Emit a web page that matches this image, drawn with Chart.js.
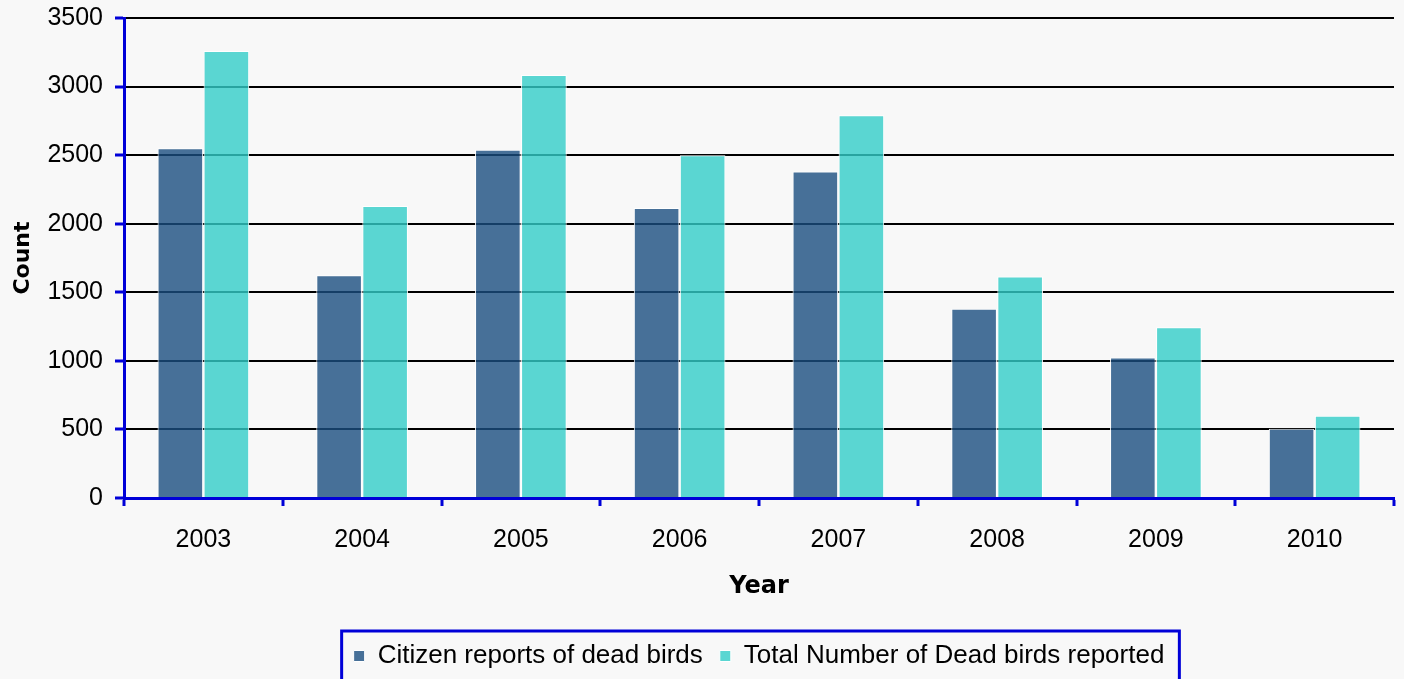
<!DOCTYPE html>
<html>
<head>
<meta charset="utf-8">
<script src="https://cdn.jsdelivr.net/npm/chart.js@4/dist/chart.umd.min.js"></script>
<style>
  html, body { margin: 0; padding: 0; background: #f8f8f8; }
  canvas { display: block; }
</style>
</head>
<body>
<canvas id="chart" width="1404" height="679"></canvas>
<script>
// Dead bird reports per year
const years = ['2003', '2004', '2005', '2006', '2007', '2008', '2009', '2010'];
const citizenReports = [2550, 1625, 2540, 2115, 2380, 1380, 1025, 505];
const totalReported = [3260, 2130, 3085, 2500, 2790, 1615, 1245, 600];
const seriesNames = ['Citizen reports of dead birds', 'Total Number of Dead birds reported'];

const AXIS_BLUE = '#0000d8';
const TICK_FONT = { family: '"Liberation Sans", Arial, sans-serif', size: 25 };
const LEGEND_FONT = { family: '"Liberation Sans", Arial, sans-serif', size: 26 };
const X_TITLE_FONT = { family: '"DejaVu Sans", Verdana, sans-serif', size: 24, weight: 'bold' };
const Y_TITLE_FONT = { family: '"DejaVu Sans", Verdana, sans-serif', size: 22, weight: 'bold' };

// Frame drawn around the legend entries
const legendFrame = {
  id: 'legendFrame',
  afterDraw(chart) {
    const lg = chart.legend;
    if (!lg || !lg.legendHitBoxes || !lg.legendHitBoxes.length) return;
    const boxes = lg.legendHitBoxes;
    const first = boxes[0];
    const last = boxes[boxes.length - 1];
    const left = first.left - 12;
    const right = last.left + last.width + 15;
    const top = 631;
    const ctx = chart.ctx;
    ctx.save();
    ctx.strokeStyle = AXIS_BLUE;
    ctx.lineWidth = 3;
    ctx.strokeRect(left, top, right - left, 679 + 10 - top);
    ctx.restore();
  }
};

new Chart(document.getElementById('chart'), {
  type: 'bar',
  data: {
    labels: years,
    datasets: [
      {
        label: seriesNames[0],
        data: citizenReports,
        backgroundColor: 'rgba(26, 78, 128, 0.8)',
        borderColor: '#ffffff',
        borderWidth: 1
      },
      {
        label: seriesNames[1],
        data: totalReported,
        backgroundColor: 'rgba(50, 205, 200, 0.8)',
        borderColor: '#ffffff',
        borderWidth: 1
      }
    ]
  },
  options: {
    responsive: false,
    animation: false,
    layout: { padding: { left: 0, right: 10, top: 18, bottom: 0 } },
    datasets: {
      bar: { categoryPercentage: 0.58, barPercentage: 0.99 }
    },
    plugins: {
      tooltip: { enabled: false },
      legend: {
        position: 'bottom',
        fullSize: false,
        labels: {
          color: '#000',
          font: LEGEND_FONT,
          boxWidth: 11,
          boxHeight: 11,
          padding: 17,
          useBorderRadius: false
        }
      }
    },
    scales: {
      x: {
        afterFit(scale) { scale.height = 128; },
        grid: {
          offset: true,
          drawOnChartArea: true,
          color: (ctx) => (ctx.index === years.length ? '#000' : 'rgba(0,0,0,0)'),
          lineWidth: 2,
          tickColor: AXIS_BLUE,
          tickLength: 8,
          tickWidth: 3
        },
        border: { color: AXIS_BLUE, width: 3 },
        ticks: { color: '#000', font: TICK_FONT, padding: 19, maxRotation: 0 },
        title: {
          display: true,
          text: 'Year',
          color: '#000',
          font: X_TITLE_FONT,
          padding: { top: 25, bottom: 25 }
        }
      },
      y: {
        min: 0,
        max: 3500,
        afterFit(scale) {
          scale.width = 124;
          scale.paddingTop = 0;
          scale.paddingBottom = 0;
        },
        grid: {
          color: (ctx) => (ctx.tick && ctx.tick.value === 0 ? 'rgba(0,0,0,0)' : '#000'),
          lineWidth: 2,
          tickColor: AXIS_BLUE,
          tickLength: 9,
          tickWidth: 3
        },
        border: { color: AXIS_BLUE, width: 3 },
        ticks: {
          stepSize: 500,
          color: '#000',
          font: TICK_FONT,
          padding: 12,
          callback: (value) => String(value)
        },
        title: {
          display: true,
          text: 'Count',
          color: '#000',
          font: Y_TITLE_FONT,
          padding: { top: 10, bottom: 10 }
        }
      }
    }
  },
  plugins: [legendFrame]
});
</script>
</body>
</html>
